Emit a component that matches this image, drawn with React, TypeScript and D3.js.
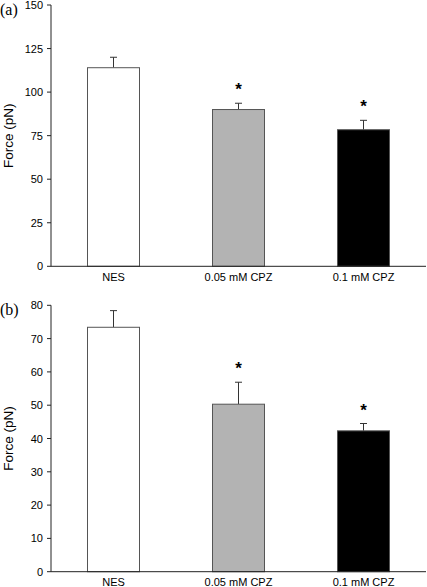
import React from "react";
import * as d3 from "d3";

const categories = ["NES", "0.05 mM CPZ", "0.1 mM CPZ"];
const fills = ["#ffffff", "#b3b3b3", "#000000"];

const meansA = [114, 90, 78.4];
const errorsA = [6, 3.6, 5.4];
const starsA = [false, true, true];
const ticksA = [0, 25, 50, 75, 100, 125, 150];

const meansB = [73.4, 50.3, 42.3];
const errorsB = [5.0, 6.6, 2.2];
const starsB = [false, true, true];
const ticksB = [0, 10, 20, 30, 40, 50, 60, 70, 80];

const W = 427;
const H = 587;
const font = "'Liberation Sans', Arial, Helvetica, sans-serif";
const serif = "'Liberation Serif', 'Times New Roman', serif";

type PanelProps = {
  label: string;
  means: number[];
  errors: number[];
  stars: boolean[];
  ticks: number[];
  yTop: number;
  yBottom: number;
  labelY: number;
};

function Panel({ label, means, errors, stars, ticks, yTop, yBottom, labelY }: PanelProps) {
  const x0 = 51;
  const x1 = 426;
  const maxV = ticks[ticks.length - 1];
  const y = d3.scaleLinear().domain([0, maxV]).range([yBottom, yTop]);
  const x = d3.scaleBand().domain(categories).range([x0, x1]).paddingInner(0.584).paddingOuter(0.292);
  const bw = x.bandwidth();
  const midY = (yTop + yBottom) / 2;
  return (
    <g>
      <text x={0} y={yTop + 10} fontFamily={serif} fontSize={16} fill="#000">
        {label}
      </text>
      {categories.map((c, i) => {
        const bx = x(c)!;
        const cx = bx + bw / 2;
        const top = y(means[i]);
        const et = y(means[i] + errors[i]);
        return (
          <g key={c}>
            <line x1={cx} x2={cx} y1={top} y2={et} stroke="#333" strokeWidth={1} />
            <line x1={cx - 3.5} x2={cx + 3.5} y1={et} y2={et} stroke="#333" strokeWidth={1} />
            <rect x={bx} y={top} width={bw} height={yBottom - top} fill={fills[i]} stroke="#555" strokeWidth={1} />
            {stars[i] && (
              <text x={cx} y={et - 8} textAnchor="middle" fontFamily={font} fontSize={17} fontWeight="bold" fill="#000">
                *
              </text>
            )}
            <text x={cx} y={labelY} textAnchor="middle" fontFamily={font} fontSize={11} fill="#000">
              {c}
            </text>
          </g>
        );
      })}
      <line x1={x0} x2={x0} y1={yTop} y2={yBottom} stroke="#222" strokeWidth={1} />
      <line x1={x0} x2={x1} y1={yBottom} y2={yBottom} stroke="#222" strokeWidth={1} />
      {ticks.map((t) => (
        <g key={t}>
          <line x1={x0 - 4} x2={x0} y1={y(t)} y2={y(t)} stroke="#222" strokeWidth={1} />
          <text x={x0 - 8} y={y(t) + 4} textAnchor="end" fontFamily={font} fontSize={11} fill="#000">
            {t}
          </text>
        </g>
      ))}
      <text
        transform={`translate(${13},${midY}) rotate(-90)`}
        textAnchor="middle"
        fontFamily={font}
        fontSize={13.5}
        fill="#000"
      >
        Force (pN)
      </text>
    </g>
  );
}

export default function App() {
  return (
    <svg width={W} height={H} style={{ position: "absolute", left: 0, top: 0, background: "#fff" }}>
      <rect x={0} y={0} width={W} height={H} fill="#fff" />
      <Panel label="(a)" means={meansA} errors={errorsA} stars={starsA} ticks={ticksA} yTop={5} yBottom={266.3} labelY={281} />
      <Panel label="(b)" means={meansB} errors={errorsB} stars={starsB} ticks={ticksB} yTop={305.3} yBottom={571.7} labelY={586} />
    </svg>
  );
}
